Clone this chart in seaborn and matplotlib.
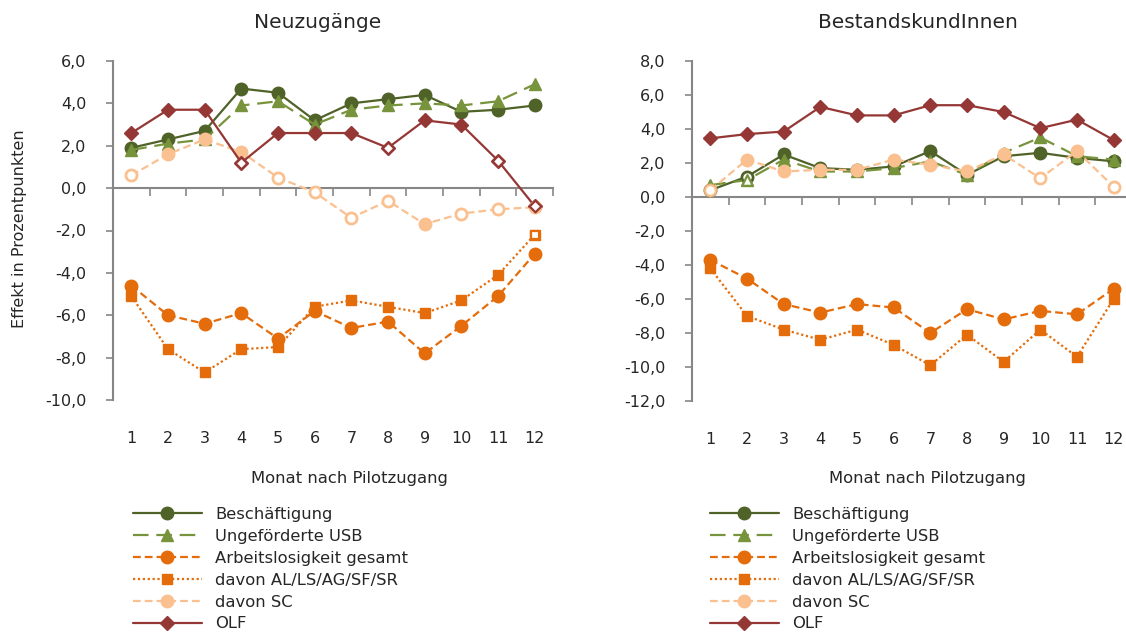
import numpy as np
import pandas as pd
import seaborn as sns
import matplotlib.pyplot as plt

# Monate nach Pilotzugang
months = np.arange(1, 13)

# Neuzugänge
besch_neu = [1.9, 2.3, 2.7, 4.7, 4.5, 3.2, 4.0, 4.2, 4.4, 3.6, 3.7, 3.9]
usb_neu = [1.8, 2.1, 2.3, 3.9, 4.1, 3.0, 3.7, 3.9, 4.0, 3.9, 4.1, 4.9]
al_neu = [-4.6, -6.0, -6.4, -5.9, -7.1, -5.8, -6.6, -6.3, -7.8, -6.5, -5.1, -3.1]
alls_neu = [-5.1, -7.6, -8.7, -7.6, -7.5, -5.6, -5.3, -5.6, -5.9, -5.3, -4.1, -2.2]
sc_neu = [0.6, 1.6, 2.3, 1.7, 0.5, -0.2, -1.4, -0.6, -1.7, -1.2, -1.0, -0.9]
olf_neu = [2.6, 3.7, 3.7, 1.2, 2.6, 2.6, 2.6, 1.9, 3.2, 3.0, 1.3, -0.85]

# nicht signifikant (hohle Marker) - Neuzugänge
ns_besch_neu = []
ns_usb_neu = []
ns_al_neu = []
ns_alls_neu = [12]
ns_sc_neu = [1, 5, 6, 7, 8, 10, 11, 12]
ns_olf_neu = [4, 8, 11, 12]

# BestandskundInnen
besch_bes = [0.4, 1.2, 2.5, 1.7, 1.6, 1.8, 2.7, 1.3, 2.4, 2.6, 2.3, 2.1]
usb_bes = [0.7, 1.0, 2.2, 1.5, 1.5, 1.7, 2.1, 1.3, 2.6, 3.5, 2.4, 2.2]
al_bes = [-3.7, -4.8, -6.3, -6.8, -6.3, -6.5, -8.0, -6.6, -7.2, -6.7, -6.9, -5.4]
alls_bes = [-4.2, -7.0, -7.8, -8.4, -7.8, -8.7, -9.9, -8.1, -9.7, -7.8, -9.4, -6.0]
sc_bes = [0.4, 2.2, 1.5, 1.6, 1.6, 2.2, 1.9, 1.5, 2.5, 1.1, 2.7, 0.6]
olf_bes = [3.45, 3.7, 3.85, 5.3, 4.8, 4.8, 5.4, 5.4, 5.0, 4.05, 4.55, 3.35]

ns_besch_bes = [1, 2]
ns_usb_bes = [2]
ns_al_bes = []
ns_alls_bes = []
ns_sc_bes = [1, 10, 12]
ns_olf_bes = []

labels = ["Beschäftigung", "Ungeförderte USB", "Arbeitslosigkeit gesamt",
          "davon AL/LS/AG/SF/SR", "davon SC", "OLF"]
colors = ["#4F6228", "#77933C", "#E46C0A", "#E46C0A", "#FAC090", "#953735"]
markers = ["o", "^", "o", "s", "o", "D"]
msizes = [9, 9, 9, 7, 9, 7]
linestyles = ["-", (0, (7, 3.5)), (0, (3.5, 1.8)), (0, (1, 1.2)), (0, (3.5, 1.8)), "-"]

sns.set_style("white")
plt.rcParams['font.family'] = ['DejaVu Sans']
plt.rcParams['text.color'] = '#262626'
gray = "#868686"

fig = plt.figure(figsize=(11.26, 6.33), dpi=100)
ax1 = fig.add_axes([113/1126, 1-400/633, 440/1126, 339/633])
ax2 = fig.add_axes([692/1126, 1-401/633, 440/1126, 340/633])


def draw_panel(ax, series, nonsig, ylim, ystep):
    for i, vals in enumerate(series):
        df = pd.DataFrame({"Monat": months, "Effekt": vals})
        sns.lineplot(data=df, x="Monat", y="Effekt", ax=ax, color=colors[i],
                     marker=markers[i], markersize=msizes[i], linewidth=1.6,
                     linestyle=linestyles[i], markeredgecolor=colors[i],
                     markeredgewidth=1, label=labels[i], zorder=2 + i)
        if nonsig[i]:
            sub = df[df["Monat"].isin(nonsig[i])]
            sns.scatterplot(data=sub, x="Monat", y="Effekt", ax=ax,
                            marker=markers[i], s=(msizes[i] * 0.85) ** 2,
                            facecolor="white", edgecolor=colors[i],
                            linewidth=1.6, zorder=10 + i)
    ax.set_xlim(0.5, 12.5)
    ax.set_ylim(*ylim)
    yt = np.arange(ylim[0], ylim[1] + 0.01, ystep)
    ax.set_yticks(yt)
    ax.set_yticklabels([f"{v:.1f}".replace(".", ",") for v in yt], fontsize=11.5)
    ax.set_xticks(months)
    ax.set_xticklabels([str(m) for m in months], fontsize=11.5)
    ax.tick_params(axis="x", length=0, pad=22)
    ax.tick_params(axis="y", length=5, width=1.2, color=gray, pad=14, left=True)
    for s in ["top", "right", "bottom"]:
        ax.spines[s].set_visible(False)
    ax.spines["left"].set_color(gray)
    ax.spines["left"].set_linewidth(1.5)
    ax.set_xlabel("")
    ax.set_ylabel("")
    ax.grid(False)
    # Nulllinie mit Kategorietrennstrichen
    loc = (0 - ylim[0]) / (ylim[1] - ylim[0])
    sec = ax.secondary_xaxis(loc)
    sec.set_alignment("bottom")
    sec.set_xticks(np.arange(0.5, 13, 1))
    sec.set_xticklabels([])
    sec.tick_params(axis="x", direction="out", length=6, width=1.2, color=gray)
    for s in sec.spines.values():
        s.set_color(gray)
        s.set_linewidth(1.5)
    handles, labs = ax.get_legend_handles_labels()
    if ax.get_legend():
        ax.get_legend().remove()
    return handles, labs


h1, l1 = draw_panel(ax1, [besch_neu, usb_neu, al_neu, alls_neu, sc_neu, olf_neu],
                    [ns_besch_neu, ns_usb_neu, ns_al_neu, ns_alls_neu, ns_sc_neu, ns_olf_neu],
                    (-10, 6), 2)
h2, l2 = draw_panel(ax2, [besch_bes, usb_bes, al_bes, alls_bes, sc_bes, olf_bes],
                    [ns_besch_bes, ns_usb_bes, ns_al_bes, ns_alls_bes, ns_sc_bes, ns_olf_bes],
                    (-12, 8), 2)

for ax, h, l, x0 in [(ax1, h1, l1, 133), (ax2, h2, l2, 710)]:
    ax.legend(h, l, loc="upper left", bbox_to_anchor=(x0/1126, 1-507/633),
              bbox_transform=fig.transFigure, frameon=False, fontsize=11.8,
              handlelength=4.2, handletextpad=0.8, labelspacing=0.42,
              borderpad=0, borderaxespad=0)

fig.text(318/1126, 1-22/633, "Neuzugänge", ha="center", va="center", fontsize=14.5)
fig.text(918/1126, 1-22/633, "BestandskundInnen", ha="center", va="center", fontsize=14.5)
fig.text(349/1126, 1-479/633, "Monat nach Pilotzugang", ha="center", va="center", fontsize=11.8)
fig.text(927/1126, 1-479/633, "Monat nach Pilotzugang", ha="center", va="center", fontsize=11.8)
fig.text(20/1126, 1-229/633, "Effekt in Prozentpunkten", ha="center", va="center",
         rotation=90, fontsize=11.5)

plt.savefig("out.png", dpi=100)
